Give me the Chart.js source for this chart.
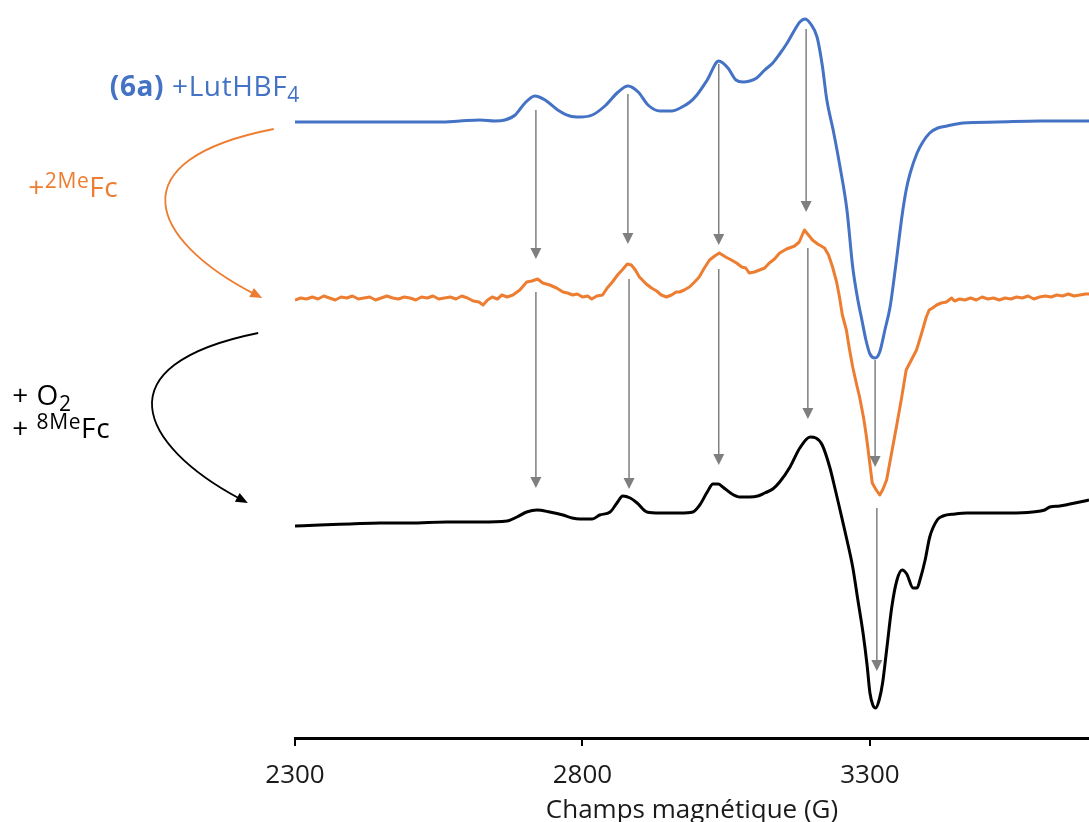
<!DOCTYPE html>
<html>
<head>
<meta charset="utf-8">
<script src="https://cdn.jsdelivr.net/npm/chart.js@4/dist/chart.umd.min.js"></script>
<style>
  html, body { margin: 0; padding: 0; background: #ffffff; }
  canvas { display: block; }
</style>
</head>
<body>
<canvas id="c" width="1089" height="822"></canvas>
<script>
// ---------------- DATA ----------------
const tickValues = [2300, 2800, 3300];
const axisTitle = 'Champs magnétique (G)';

// (6a) + LutHBF4 (blue)
const blueField = [2300,2396,2483,2552,2587,2622,2648,2665,2683,2700,2717,2735,2757,2778,2796,2817,2839,2862,2879,2897,2914,2935,2956,2970,2987,2999,3017,3037,3053,3067,3079,3091,3103,3117,3131,3143,3156,3170,3178,3187,3197,3208,3217,3225,3236,3248,3260,3270,3279,3286,3293,3300,3309,3317,3326,3335,3345,3356,3363,3370,3382,3392,3404,3418,3434,3462,3521,3596,3681];
const blueSignal = [0,0,0,0,1,2,1,2,7,19,26,22,12,6,5,7,16,30,36,30,17,11,11,14,20,27,42,61,54,42,40,41,44,52,59,68,79,93,100,103,98,85,57,22,-8,-45,-88,-145,-178,-198,-218,-232,-236,-230,-208,-185,-143,-93,-68,-51,-31,-20,-11,-6,-4,-1,0,1,1];

// + 2MeFc (orange)
const orangeField = [2300,2310,2320,2330,2340,2350,2360,2370,2380,2390,2400,2410,2420,2430,2440,2450,2460,2470,2480,2490,2500,2510,2520,2530,2540,2550,2560,2570,2580,2590,2600,2610,2620,2627,2635,2643,2652,2660,2669,2679,2691,2703,2712,2722,2731,2743,2755,2766,2774,2783,2791,2800,2809,2816,2825,2835,2843,2852,2861,2869,2878,2885,2892,2899,2911,2920,2929,2937,2946,2955,2963,2969,2977,2986,2995,3003,3012,3021,3030,3038,3049,3059,3068,3077,3084,3090,3099,3108,3117,3125,3134,3143,3155,3169,3177,3186,3193,3200,3209,3221,3228,3235,3242,3247,3252,3259,3264,3270,3277,3282,3289,3294,3299,3304,3311,3317,3322,3329,3337,3346,3355,3363,3372,3381,3389,3398,3403,3409,3416,3424,3433,3442,3447,3456,3465,3475,3485,3495,3505,3515,3525,3535,3545,3555,3565,3575,3585,3595,3605,3615,3625,3635,3645,3655,3665,3675,3681];
const orangeSignal = [-2,0,-1,1,-1,2,0,-2,1,0,2,-1,0,1,-2,0,2,0,-1,1,0,-2,1,0,2,-1,0,1,-1,2,0,-3,-4,-7,-2,1,-1,3,1,3,8,16,17,19,15,13,10,6,5,3,4,1,2,-1,2,3,10,16,23,28,34,33,28,21,14,10,7,3,1,3,6,6,8,11,16,21,30,38,42,45,41,38,35,31,30,25,26,28,30,35,39,45,49,52,56,68,63,58,54,50,43,31,16,1,-17,-32,-50,-69,-87,-99,-120,-139,-162,-185,-192,-197,-192,-182,-157,-129,-100,-72,-62,-52,-37,-19,-12,-10,-7,-5,-4,0,-3,-1,-2,0,-2,1,-1,0,-2,0,-1,1,0,2,-1,1,2,1,3,2,4,2,3,4,4];

// + O2 + 8MeFc (black)
const blackField = [2300,2343,2396,2448,2500,2564,2622,2669,2686,2703,2721,2743,2766,2782,2796,2817,2830,2848,2860,2870,2883,2895,2912,2935,2970,2992,3004,3017,3027,3036,3044,3060,3074,3091,3105,3117,3131,3143,3161,3178,3196,3206,3217,3230,3239,3248,3260,3270,3279,3288,3295,3300,3305,3310,3316,3322,3329,3338,3347,3356,3364,3375,3382,3387,3396,3404,3417,3427,3448,3469,3509,3543,3583,3604,3613,3630,3648,3665,3681];
const blackSignal = [-4,-3,-2,-1,-1,0,0,1,5,10,12,10,7,4,3,3,7,10,19,26,24,19,10,9,9,10,17,30,38,38,35,28,25,25,26,29,33,40,55,74,85,84,77,55,34,12,-18,-45,-78,-111,-143,-171,-183,-186,-178,-161,-128,-85,-58,-48,-52,-66,-66,-58,-38,-15,2,6,8,9,9,9,10,12,15,16,18,20,22];

// vertical stacking offsets of the three spectra (signal units)
const seriesOffsets = [616, 440, 216];

// grey correlation arrows (field, from signal level, to signal level)
const arrowField = [2719, 2879, 3037, 3189, 3309, 2719, 2881, 3037, 3192, 3312];
const arrowFrom  = [628, 644, 674, 709, 378, 446, 459, 469, 490, 230];
const arrowTo    = [479, 494, 493, 526, 271, 250, 249, 273, 319, 67];

// ---------------- CHART ----------------
const BLUE = '#4472C4', ORANGE = '#ED7D31', BLACK = '#000000', GREY = '#7F7F7F';
const FONT = "'Open Sans', 'DejaVu Sans', sans-serif";

function toPoints(field, signal, offset) {
  return field.map((f, i) => ({ x: f, y: signal[i] + offset }));
}

// annotation texts and curved arrows, placed in data coordinates
const labels = [
  { at: [1978, 642], color: BLUE, runs: [{ t: '(6a)', bold: true }, { t: ' +LutHBF' }, { t: '4', sub: true }] },
  { at: [1836, 541], color: ORANGE, runs: [{ t: '+' }, { t: '2Me', sup: true }, { t: 'Fc' }] },
  { at: [1808, 333], color: BLACK, runs: [{ t: '+ O' }, { t: '2', sub: true }] },
  { at: [1808, 300], color: BLACK, runs: [{ t: '+ ' }, { t: '8Me', sup: true }, { t: 'Fc' }] }
];
const curves = [
  { color: ORANGE, pts: [[2263, 609], [1987, 578], [2048, 498], [2243, 440]] },
  { color: BLACK,  pts: [[2236, 405], [1961, 373], [2030, 293], [2218, 235]] }
];

const annotPlugin = {
  id: 'annot',
  afterDatasetsDraw(chart) {
    const { ctx, scales: { x, y } } = chart;
    ctx.save();
    // grey arrows
    ctx.strokeStyle = GREY; ctx.fillStyle = GREY; ctx.lineWidth = 1.5;
    arrowField.forEach((f, i) => {
      const px = x.getPixelForValue(f);
      const y0 = y.getPixelForValue(arrowFrom[i]);
      const y1 = y.getPixelForValue(arrowTo[i]);
      const head = 11, hw = 5.5;
      ctx.beginPath(); ctx.moveTo(px, y0); ctx.lineTo(px, y1 - head + 1); ctx.stroke();
      ctx.beginPath(); ctx.moveTo(px, y1); ctx.lineTo(px - hw, y1 - head); ctx.lineTo(px + hw, y1 - head); ctx.closePath(); ctx.fill();
    });
    // curved arrows
    curves.forEach(c => {
      const p = c.pts.map(q => [x.getPixelForValue(q[0]), y.getPixelForValue(q[1])]);
      ctx.strokeStyle = c.color; ctx.fillStyle = c.color; ctx.lineWidth = 1.8;
      const ang = Math.atan2(p[3][1] - p[2][1], p[3][0] - p[2][0]);
      const hl = 12, hw = 5;
      const bx = p[3][0] - hl * 0.8 * Math.cos(ang), by = p[3][1] - hl * 0.8 * Math.sin(ang);
      ctx.beginPath(); ctx.moveTo(p[0][0], p[0][1]);
      ctx.bezierCurveTo(p[1][0], p[1][1], p[2][0], p[2][1], bx, by); ctx.stroke();
      const ex = p[3][0], ey = p[3][1];
      const cx = ex - hl * Math.cos(ang), cy = ey - hl * Math.sin(ang);
      ctx.beginPath(); ctx.moveTo(ex, ey);
      ctx.lineTo(cx + hw * Math.sin(ang), cy - hw * Math.cos(ang));
      ctx.lineTo(cx - hw * Math.sin(ang), cy + hw * Math.cos(ang));
      ctx.closePath(); ctx.fill();
    });
    // texts
    ctx.textBaseline = 'alphabetic'; ctx.textAlign = 'left';
    labels.forEach(l => {
      let cx = x.getPixelForValue(l.at[0]);
      const by = y.getPixelForValue(l.at[1]);
      ctx.fillStyle = l.color;
      ctx.letterSpacing = '0.6px';
      l.runs.forEach(r => {
        const small = r.sub || r.sup;
        ctx.font = (r.bold ? 'bold ' : '') + (small ? 21 : 28) + 'px ' + FONT;
        const dy = r.sup ? -9 : (r.sub ? 6 : 0);
        ctx.fillText(r.t, cx, by + dy);
        cx += ctx.measureText(r.t).width;
      });
    });
    ctx.restore();
  }
};

const datasets = [
  { data: toPoints(blueField, blueSignal, seriesOffsets[0]), borderColor: BLUE, cubicInterpolationMode: 'monotone' },
  { data: toPoints(orangeField, orangeSignal, seriesOffsets[1]), borderColor: ORANGE, tension: 0 },
  { data: toPoints(blackField, blackSignal, seriesOffsets[2]), borderColor: BLACK, cubicInterpolationMode: 'monotone' }
].map(d => Object.assign({ showLine: true, pointRadius: 0, borderWidth: 3, fill: false, borderJoinStyle: 'round' }, d));

new Chart(document.getElementById('c'), {
  type: 'scatter',
  data: { datasets },
  plugins: [annotPlugin],
  options: {
    responsive: false,
    animation: false,
    devicePixelRatio: 1,
    layout: { padding: { left: 295, right: 0, top: 0, bottom: 0 } },
    plugins: { legend: { display: false }, tooltip: { enabled: false } },
    scales: {
      x: {
        type: 'linear',
        min: 2300,
        max: 3681,
        afterBuildTicks: s => { s.ticks = tickValues.map(v => ({ value: v })); },
        afterFit: s => { s.height = 84; },
        grid: { drawOnChartArea: false, drawTicks: true, tickLength: 8, color: '#000', lineWidth: 2 },
        border: { display: true, color: '#000', width: 3 },
        ticks: {
          font: { family: FONT, size: 26, lineHeight: 1.0 }, color: '#1a1a1a', padding: 17,
          maxRotation: 0, autoSkip: false, callback: v => String(v)
        },
        title: {
          display: true, text: axisTitle, font: { family: FONT, size: 26, lineHeight: 0.84 },
          color: '#1a1a1a', padding: { top: 0, bottom: 0 }
        }
      },
      y: { display: false, min: 0, max: 738 }
    }
  }
});
</script>
</body>
</html>
